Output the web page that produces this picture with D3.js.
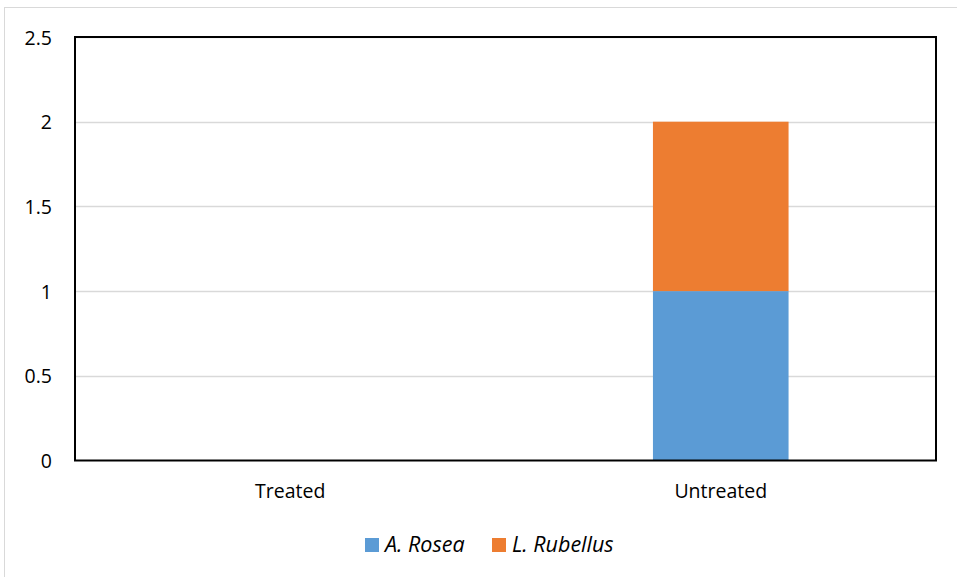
<!DOCTYPE html>
<html><head><meta charset="utf-8">
<script src="https://cdn.jsdelivr.net/npm/d3@7"></script>
<style>body{margin:0;background:#fff;} text{font-family:"Open Sans","Noto Sans",sans-serif;fill:#000;}</style>
</head><body>
<svg id="c" width="957" height="577"></svg>
<script>
const categories = ["Treated", "Untreated"];
const seriesNames = ["A. Rosea", "L. Rubellus"];
const aRosea = [0, 1];
const lRubellus = [0, 1];
const yTicks = [0, 0.5, 1, 1.5, 2, 2.5];
const colors = ["#5B9BD5", "#ED7D31"];

const svg = d3.select("#c");
svg.append("rect").attr("x",4.5).attr("y",7.5).attr("width",960).attr("height",580)
  .attr("fill","#fff").attr("stroke","#d9d9d9").attr("stroke-width",1);

const L=75, R=936, T=37, B=460.5;
const x = d3.scaleBand().domain(categories).range([L,R]).paddingInner(0.685).paddingOuter(0.3425);
const y = d3.scaleLinear().domain([0,2.5]).range([B,T]);

// gridlines
svg.append("g").selectAll("line").data(yTicks.filter(d=>d>0)).join("line")
  .attr("x1",L).attr("x2",R).attr("y1",d=>Math.round(y(d))+0.5).attr("y2",d=>Math.round(y(d))+0.5)
  .attr("stroke","#d9d9d9").attr("stroke-width",1.3);

const data = categories.map((c,i)=>({cat:c, "A. Rosea":aRosea[i], "L. Rubellus":lRubellus[i]}));
const stacked = d3.stack().keys(seriesNames)(data);
svg.append("g").selectAll("g").data(stacked).join("g").attr("fill",(d,i)=>colors[i])
  .selectAll("rect").data(d=>d).join("rect")
  .attr("x",d=>x(d.data.cat)).attr("width",x.bandwidth())
  .attr("y",d=>y(d[1])).attr("height",d=>y(d[0])-y(d[1]));

// frame
svg.append("rect").attr("x",L).attr("y",T).attr("width",R-L).attr("height",B-T)
  .attr("fill","none").attr("stroke","#000").attr("stroke-width",2);

// y axis labels
const ya = svg.append("g").attr("transform",`translate(${L},0)`)
  .call(d3.axisLeft(y).tickValues(yTicks).tickSize(0).tickPadding(23).tickFormat(d3.format("")));
ya.select(".domain").remove();
ya.selectAll("text").attr("font-size",19.5).attr("dy","0.36em");

// x axis labels
const xa = svg.append("g").attr("transform",`translate(0,${B})`)
  .call(d3.axisBottom(x).tickSize(0).tickPadding(0));
xa.select(".domain").remove();
xa.selectAll("text").attr("font-size",19.5).attr("y",37.5).attr("dy",0);

// legend
const lx = [365, 492];
const lg = svg.append("g").selectAll("g").data(seriesNames).join("g")
  .attr("transform",(d,i)=>`translate(${lx[i]},538)`);
lg.append("rect").attr("width",14).attr("height",14).attr("fill",(d,i)=>colors[i]);
lg.append("text").attr("x",20).attr("y",14).attr("font-size",21.5)
  .attr("font-style","italic").text(d=>d);
</script>
</body></html>
